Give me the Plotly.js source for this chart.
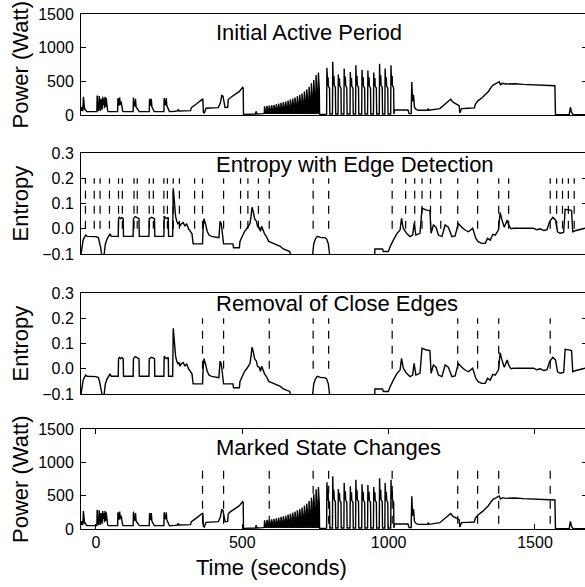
<!DOCTYPE html>
<html>
<head>
<meta charset="utf-8">
<script src="https://cdn.plot.ly/plotly-3.0.1.min.js"></script>
<style>
html,body{margin:0;padding:0;overflow:hidden;background:#fff;}
#chart{width:587px;height:587px;}
</style>
</head>
<body>
<div id="chart"></div>
<script>
// ---------------- DATA ----------------
// Power trace: [time (s), power (W)]
const powerSamples = [
[-51,60],[-49,120],[-47,80],[-45,60],[-43,270],[-41,150],[-39,90],[-37,90],[-35,60],[-32,50],
[3,50],[4,290],[6,100],[9,60],[11,280],[13,120],[15,60],[17,240],[19,110],[21,80],[23,270],[25,150],[27,240],[29,100],[31,270],[33,120],[35,250],[37,100],[40,60],[42,50],
[74,50],[75,250],[77,150],[79,140],[81,260],[83,150],[86,200],[88,90],[91,60],[93,50],
[127,50],[128,260],[130,140],[133,130],[135,240],[137,120],[140,100],[143,90],[146,60],[148,50],
[182,50],[183,240],[185,150],[187,140],[189,240],[191,120],[194,100],[197,60],[199,50],
[232,50],[233,250],[235,160],[238,150],[240,250],[242,140],[245,110],[248,60],[251,50],
[270,55],[279,60],[281,85],[284,60],[323,65],[326,110],[345,170],[360,230],[365,240],[367,40],[370,30],[376,100],[418,110],[425,180],[430,290],[434,280],[438,160],[441,110],[450,115],[452,230],[460,260],[475,300],[490,350],[501,410],[503,400],[504,10],
[540,10],[545,15],[547,55],[550,15],[570,20],
[575,25],[576,130],[579,80],[580,25],
[583,25],[584,135],[587,80],[588,25],
[591,25],[592,140],[595,85],[596,25],
[599,25],[600,145],[603,85],[604,25],
[607,25],[608,150],[611,90],[612,25],
[615,25],[616,160],[619,95],[620,25],
[623,25],[624,170],[627,100],[628,25],
[631,25],[632,180],[635,110],[636,25],
[639,25],[640,190],[643,115],[644,25],
[647,25],[648,200],[651,120],[652,25],
[655,25],[656,215],[659,130],[660,25],
[663,25],[664,230],[667,140],[668,25],
[671,25],[672,245],[675,150],[676,25],
[679,25],[680,260],[683,155],[684,25],
[687,25],[688,280],[691,170],[692,25],
[695,25],[696,300],[699,180],[700,25],
[703,25],[704,320],[707,190],[708,25],
[711,25],[712,350],[715,210],[716,25],
[719,25],[720,380],[723,230],[724,25],
[727,25],[728,420],[731,250],[732,25],
[735,25],[736,470],[739,280],[740,25],
[743,25],[744,520],[747,310],[748,25],
[751,25],[752,595],[755,360],[756,25],
[759,25],[760,630],[763,380],[764,10],
[786,10],
[788,15],[789,700],[790.5,470],[792,440],[793,560],[794,430],[798,400],[799,15],
[808,15],[809,790],[810.5,480],[812,450],[813,580],[814,440],[818,410],[819,15],
[827,15],[828,600],[829.5,470],[831,440],[832,540],[833,430],[837,400],[838,15],
[847,15],[848,690],[849.5,480],[851,450],[852,570],[853,440],[857,400],[858,15],
[868,15],[869,640],[870.5,470],[872,440],[873,550],[874,430],[878,400],[879,15],
[887,15],[888,740],[889.5,480],[891,450],[892,580],[893,440],[897,410],[898,15],
[908,15],[909,670],[910.5,470],[912,440],[913,560],[914,430],[918,400],[919,15],
[928,15],[929,660],[930.5,470],[932,440],[933,560],[934,430],[938,400],[939,15],
[948,15],[949,630],[950.5,470],[952,440],[953,550],[954,430],[958,400],[959,15],
[968,15],[969,760],[970.5,480],[972,450],[973,590],[974,440],[978,410],[979,15],
[987,15],[988,690],[989.5,470],[991,440],[992,560],[993,430],[997,400],[998,15],
[1007,15],[1008,740],[1009.5,480],[1011,450],[1012,580],[1013,440],[1017,400],[1018,15],
[1020,75],[1066,75],[1070,20],[1077,20],[1079,490],[1082,200],[1085,300],[1088,120],[1092,90],[1100,70],
[1133,70],[1135,95],[1138,70],[1175,95],[1190,150],[1200,190],[1212,233],[1220,190],[1235,150],[1241,140],[1243,30],[1249,95],[1270,100],[1293,105],
[1296,160],[1305,210],[1320,260],[1340,346],[1350,410],[1357,445],[1368,470],[1378,495],[1382,450],[1390,470],[1400,460],
[1430,465],[1460,455],[1500,450],[1540,440],[1568,435],[1570,5],[1617,5],[1621,115],[1625,40],[1630,5],[1680,5]
];

// Entropy trace: [time (s), entropy]
const entropySamples = [
[-51,-0.1],[-48,-0.065],[-44,-0.045],[-40,-0.035],[-35,-0.025],[-30,-0.03],[-20,-0.031],[0,-0.031],[8,-0.035],[12,-0.05],[16,-0.075],[19,-0.1],[22,-0.13],
[26,-0.13],[28,-0.1],[32,-0.06],[38,-0.04],[44,-0.025],[48,-0.02],[52,-0.03],[76,-0.03],
[77,0.04],[80,0.045],[84,0.04],[88,0.045],[93,0.04],[94,-0.03],[127,-0.03],
[128,0.04],[134,0.048],[140,0.045],[147,0.04],[148,-0.03],[181,-0.03],
[182,0.04],[190,0.045],[200,0.04],[201,-0.03],[232,-0.03],
[233,0.05],[240,0.04],[247,0.045],[248,-0.03],[262,-0.03],
[264,0.16],[268,0.08],[272,0.05],[276,0.03],[280,0.02],[284,0.025],[287,0.01],[292,0.02],[298,0.025],[304,0.01],[310,0.02],[316,0.0],[322,-0.01],[328,-0.02],[332,-0.06],[364,-0.06],
[366,0.0],[369,0.04],[374,0.02],[380,-0.01],[386,-0.025],[395,-0.03],[420,-0.035],[424,0.03],[428,0.02],[432,-0.02],[436,-0.06],[468,-0.06],[470,-0.075],[490,-0.075],
[492,-0.05],[500,-0.03],[508,-0.01],[515,0.0],[520,0.01],[526,0.02],[530,0.05],[533,0.085],[537,0.07],[542,0.04],[548,0.03],[552,0.01],[558,0.005],[562,-0.01],[566,0.01],[570,-0.005],[576,-0.02],[582,-0.03],[590,-0.05],[600,-0.055],[610,-0.06],[620,-0.065],[630,-0.07],[640,-0.08],[650,-0.085],[662,-0.09],[664,-0.1],[666,-0.14],
[737,-0.14],[740,-0.1],[744,-0.06],[750,-0.04],[756,-0.03],[770,-0.035],[782,-0.035],[788,-0.04],[794,-0.06],[798,-0.1],[800,-0.14],
[951,-0.14],[953,-0.08],[979,-0.08],[982,-0.09],[999,-0.09],[1005,-0.071],[1016,-0.045],[1027,-0.021],[1039,-0.005],[1044,0.041],[1050,0.002],[1061,-0.018],[1073,-0.031],[1082,-0.025],[1087,0.021],[1093,-0.025],[1107,-0.018],
[1114,0.081],[1130,0.074],[1141,0.072],[1145,-0.018],[1153,0.015],[1162,0.006],[1170,-0.025],[1182,-0.031],[1193,0.015],[1204,0.006],[1216,-0.031],[1227,-0.028],[1238,0.021],[1250,0.006],[1261,-0.005],[1273,-0.012],[1287,0.002],[1298,-0.038],[1306,-0.051],[1318,-0.058],[1330,-0.058],[1338,-0.038],[1347,-0.045],[1356,-0.022],[1364,-0.025],[1375,-0.005],
[1381,0.064],[1387,0.035],[1395,0.006],[1405,0.035],[1410,0.015],[1418,0.0],[1426,0.002],[1495,0.002],[1506,-0.004],[1518,0.0],[1530,-0.007],[1541,-0.004],[1550,0.028],[1561,0.045],[1570,0.035],[1577,-0.012],[1586,-0.018],[1598,-0.015],
[1603,0.077],[1620,0.074],[1625,0.072],[1629,-0.012],[1637,-0.008],[1671,0.002],[1680,0.002]
];

// Detected edges (s) for panel 2, and filtered edges for panels 3 & 4
const allEdges = [-36,-6,14,46,77,90,130,141,182,196,232,244,264,285,337,364,436,494,519,555,592,742,795,1012,1058,1089,1114,1143,1178,1236,1304,1376,1410,1552,1574,1594,1614,1634];
const keptEdges = [364,436,592,742,795,1012,1236,1304,1376,1552];

const panelTitles = ["Initial Active Period","Entropy with Edge Detection","Removal of Close Edges","Marked State Changes"];
const yTitles = ["Power (Watt)","Entropy","Entropy","Power (Watt)"];
const powerTicks = [0,500,1000,1500];
const entropyTicks = [-0.1,0.0,0.1,0.2,0.3];
const timeTicks = [0,500,1000,1500];
const xTitle = "Time (seconds)";

// ---------------- BUILD ----------------
const pT = powerSamples.map(p=>p[0]), pW = powerSamples.map(p=>p[1]);
const eT = entropySamples.map(p=>p[0]), eV = entropySamples.map(p=>p[1]);

function vlines(edges, from, to){
  const x=[], y=[];
  edges.forEach(t=>{x.push(t,t,null); y.push(from,to,null);});
  return {x,y};
}
const FONT = "Liberation Sans, Arial, Helvetica, sans-serif";
const lineStyle = {color:'#000', width:1.4};
const dashStyle = {color:'#000', width:1.2, dash:'8px,7px'};

const v2 = vlines(allEdges,0.0,0.2);
const v3 = vlines(keptEdges,0.0,0.2);
const v4 = vlines(keptEdges,875,0);

const traces = [
  {x:pT,y:pW,xaxis:'x',yaxis:'y',mode:'lines',line:lineStyle,hoverinfo:'skip'},
  {x:v2.x,y:v2.y,xaxis:'x2',yaxis:'y2',mode:'lines',line:dashStyle,connectgaps:false,hoverinfo:'skip'},
  {x:eT,y:eV,xaxis:'x2',yaxis:'y2',mode:'lines',line:lineStyle,hoverinfo:'skip'},
  {x:v3.x,y:v3.y,xaxis:'x3',yaxis:'y3',mode:'lines',line:dashStyle,connectgaps:false,hoverinfo:'skip'},
  {x:eT,y:eV,xaxis:'x3',yaxis:'y3',mode:'lines',line:lineStyle,hoverinfo:'skip'},
  {x:v4.x,y:v4.y,xaxis:'x4',yaxis:'y4',mode:'lines',line:dashStyle,connectgaps:false,hoverinfo:'skip'},
  {x:pT,y:pW,xaxis:'x4',yaxis:'y4',mode:'lines',line:lineStyle,hoverinfo:'skip'}
];

const H = 587, L = 81, W = 587;
const PW = W - L;
const xRange = [-51.2, -51.2 + PW/0.29267];
function dom(top,bot){ return [1-bot/H, 1-top/H]; }
const panels = [[14,115],[153,254],[293,394],[429,529]];

function xAx(anchor, show){
  return {anchor:anchor, domain:[0,1], range:xRange, showgrid:false, zeroline:false,
    showline:true, mirror:show?'ticks':true, linecolor:'#000', linewidth:1,
    ticks: show?'inside':'', ticklen:5, tickcolor:'#000', tickvals: timeTicks,
    showticklabels:show, tickfont:{family:FONT,size:16,color:'#000'}, ticklabelstandoff:-1};
}
function yAx(anchor, d, range, ticks, fmt){
  return {anchor:anchor, domain:d, range:range, showgrid:false, zeroline:false,
    showline:true, mirror:'ticks', linecolor:'#000', linewidth:1,
    ticks:'inside', ticklen:5, tickcolor:'#000', tickvals:ticks, tickformat:fmt,
    tickfont:{family:FONT,size:16,color:'#000'}, ticklabelstandoff:3};
}

const annotations = [];
const titleY = [32.8,164.7,303.7,447];
panelTitles.forEach((t,i)=>{
  annotations.push({text:t, xref:'paper', yref:'paper', x:(214-L)/PW, y:1-titleY[i]/H,
    xanchor:'left', yanchor:'middle', showarrow:false, font:{family:FONT,size:22,color:'#000'}});
});
yTitles.forEach((t,i)=>{
  const c = (panels[i][0]+panels[i][1])/2;
  annotations.push({text:t, xref:'paper', yref:'paper', x:(20-L)/PW, y:1-c/H,
    xanchor:'center', yanchor:'middle', textangle:-90, showarrow:false, font:{family:FONT,size:22,color:'#000'}});
});
annotations.push({text:xTitle, xref:'paper', yref:'paper', x:(271.5-L)/PW, y:1-567.5/H,
  xanchor:'center', yanchor:'middle', showarrow:false, font:{family:FONT,size:22,color:'#000'}});

const layout = {
  width:W, height:H, margin:{l:L,r:0,t:0,b:0}, showlegend:false,
  paper_bgcolor:'#fff', plot_bgcolor:'#fff', font:{family:FONT,color:'#000'},
  xaxis: xAx('y',false), xaxis2: xAx('y2',false), xaxis3: xAx('y3',false), xaxis4: xAx('y4',true),
  yaxis: yAx('x',dom(...panels[0]),[0,1500],powerTicks,'d'),
  yaxis2: yAx('x2',dom(...panels[1]),[-0.1,0.3],entropyTicks,'.1f'),
  yaxis3: yAx('x3',dom(...panels[2]),[-0.1,0.3],entropyTicks,'.1f'),
  yaxis4: yAx('x4',dom(...panels[3]),[0,1500],powerTicks,'d'),
  annotations: annotations
};
Plotly.newPlot('chart', traces, layout, {staticPlot:true, displayModeBar:false});
</script>
</body>
</html>
